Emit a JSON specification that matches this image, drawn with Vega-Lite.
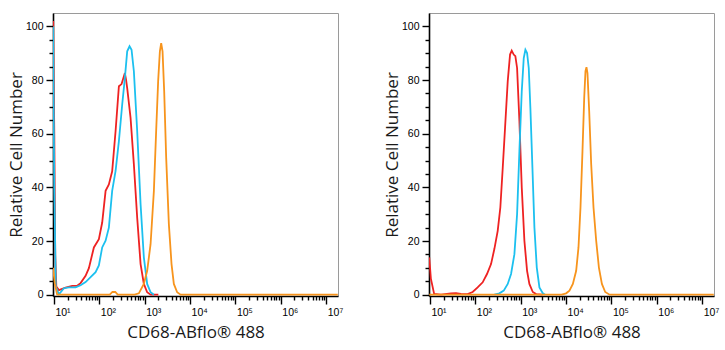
{
  "$schema": "https://vega.github.io/schema/vega-lite/v6.json",
  "padding": {"left": 6, "top": 12, "right": 0, "bottom": 8},
  "background": "white",
  "config": {
    "view": {"stroke": "#9a9a9a", "strokeWidth": 1},
    "axis": {
      "grid": false,
      "domainColor": "#000",
      "domainWidth": 1.6,
      "tickColor": "#000",
      "tickWidth": 1.4,
      "labelFont": "Liberation Sans",
      "labelFontSize": 10.5,
      "labelColor": "#000",
      "titleFont": "Open Sans",
      "titleFontSize": 17,
      "titleFontWeight": "normal",
      "titleColor": "#1a1a1a"
    }
  },
  "datasets": {
    "hist": [
      {"panel": "A", "series": "blank", "x": 9.6, "y": 102},
      {"panel": "A", "series": "blank", "x": 10.2, "y": 60},
      {"panel": "A", "series": "blank", "x": 10.7, "y": 15},
      {"panel": "A", "series": "blank", "x": 11.3, "y": 3},
      {"panel": "A", "series": "blank", "x": 12.9, "y": 1.7},
      {"panel": "A", "series": "blank", "x": 18.1, "y": 2.6},
      {"panel": "A", "series": "blank", "x": 25.3, "y": 3.3},
      {"panel": "A", "series": "blank", "x": 32.6, "y": 3.3},
      {"panel": "A", "series": "blank", "x": 38.7, "y": 4.3},
      {"panel": "A", "series": "blank", "x": 49.9, "y": 7},
      {"panel": "A", "series": "blank", "x": 59, "y": 9.9},
      {"panel": "A", "series": "blank", "x": 76, "y": 17.6},
      {"panel": "A", "series": "blank", "x": 97.9, "y": 20.7},
      {"panel": "A", "series": "blank", "x": 115.9, "y": 26.9},
      {"panel": "A", "series": "blank", "x": 137.7, "y": 38.7},
      {"panel": "A", "series": "blank", "x": 162.6, "y": 41.1},
      {"panel": "A", "series": "blank", "x": 192.3, "y": 46},
      {"panel": "A", "series": "blank", "x": 228.6, "y": 61},
      {"panel": "A", "series": "blank", "x": 270.4, "y": 77.7},
      {"panel": "A", "series": "blank", "x": 309.7, "y": 78.5},
      {"panel": "A", "series": "blank", "x": 366.4, "y": 82.6},
      {"panel": "A", "series": "blank", "x": 390, "y": 80},
      {"panel": "A", "series": "blank", "x": 412.1, "y": 77},
      {"panel": "A", "series": "blank", "x": 488.7, "y": 65.9},
      {"panel": "A", "series": "blank", "x": 578.1, "y": 48.6},
      {"panel": "A", "series": "blank", "x": 683.9, "y": 28.7},
      {"panel": "A", "series": "blank", "x": 812.8, "y": 11.4},
      {"panel": "A", "series": "blank", "x": 959.4, "y": 4},
      {"panel": "A", "series": "blank", "x": 1135, "y": 0.9},
      {"panel": "A", "series": "blank", "x": 1349, "y": 0},
      {"panel": "A", "series": "blank", "x": 2000, "y": 0},
      {"panel": "A", "series": "control", "x": 9.55, "y": 100},
      {"panel": "A", "series": "control", "x": 10.2, "y": 40},
      {"panel": "A", "series": "control", "x": 11, "y": 3},
      {"panel": "A", "series": "control", "x": 12.9, "y": 0.1},
      {"panel": "A", "series": "control", "x": 16.6, "y": 2.4},
      {"panel": "A", "series": "control", "x": 21.4, "y": 2.7},
      {"panel": "A", "series": "control", "x": 30.1, "y": 2.7},
      {"panel": "A", "series": "control", "x": 38.7, "y": 3.5},
      {"panel": "A", "series": "control", "x": 49.9, "y": 4.7},
      {"panel": "A", "series": "control", "x": 64.3, "y": 6.5},
      {"panel": "A", "series": "control", "x": 82.8, "y": 8.4},
      {"panel": "A", "series": "control", "x": 97.9, "y": 10.9},
      {"panel": "A", "series": "control", "x": 115.9, "y": 17.6},
      {"panel": "A", "series": "control", "x": 137.7, "y": 20.1},
      {"panel": "A", "series": "control", "x": 162.6, "y": 25},
      {"panel": "A", "series": "control", "x": 192.3, "y": 38.7},
      {"panel": "A", "series": "control", "x": 228.6, "y": 46.1},
      {"panel": "A", "series": "control", "x": 270.4, "y": 57.2},
      {"panel": "A", "series": "control", "x": 319.9, "y": 70.9},
      {"panel": "A", "series": "control", "x": 366.4, "y": 80.8},
      {"panel": "A", "series": "control", "x": 412.1, "y": 90.7},
      {"panel": "A", "series": "control", "x": 464.5, "y": 92.6},
      {"panel": "A", "series": "control", "x": 514, "y": 91.3},
      {"panel": "A", "series": "control", "x": 578.1, "y": 83.3},
      {"panel": "A", "series": "control", "x": 683.9, "y": 61},
      {"panel": "A", "series": "control", "x": 812.8, "y": 33.7},
      {"panel": "A", "series": "control", "x": 959.4, "y": 13.9},
      {"panel": "A", "series": "control", "x": 1135, "y": 4},
      {"panel": "A", "series": "control", "x": 1349, "y": 0.9},
      {"panel": "A", "series": "control", "x": 1596, "y": 0},
      {"panel": "A", "series": "stained", "x": 9.55, "y": 10},
      {"panel": "A", "series": "stained", "x": 10.5, "y": 4},
      {"panel": "A", "series": "stained", "x": 11.8, "y": 0},
      {"panel": "A", "series": "stained", "x": 170, "y": 0},
      {"panel": "A", "series": "stained", "x": 195, "y": 1},
      {"panel": "A", "series": "stained", "x": 225, "y": 1},
      {"panel": "A", "series": "stained", "x": 255, "y": 0},
      {"panel": "A", "series": "stained", "x": 600, "y": 0},
      {"panel": "A", "series": "stained", "x": 744.7, "y": 0.5},
      {"panel": "A", "series": "stained", "x": 959, "y": 4},
      {"panel": "A", "series": "stained", "x": 1135, "y": 8.9},
      {"panel": "A", "series": "stained", "x": 1349, "y": 18.8},
      {"panel": "A", "series": "stained", "x": 1596, "y": 38.7},
      {"panel": "A", "series": "stained", "x": 1791, "y": 61},
      {"panel": "A", "series": "stained", "x": 1982, "y": 79.6},
      {"panel": "A", "series": "stained", "x": 2163, "y": 90.7},
      {"panel": "A", "series": "stained", "x": 2312, "y": 93.8},
      {"panel": "A", "series": "stained", "x": 2477, "y": 90.7},
      {"panel": "A", "series": "stained", "x": 2692, "y": 75.8},
      {"panel": "A", "series": "stained", "x": 2979, "y": 51},
      {"panel": "A", "series": "stained", "x": 3412, "y": 26.3},
      {"panel": "A", "series": "stained", "x": 3908, "y": 11.4},
      {"panel": "A", "series": "stained", "x": 4395, "y": 4},
      {"panel": "A", "series": "stained", "x": 5200, "y": 0.9},
      {"panel": "A", "series": "stained", "x": 6180, "y": 0},
      {"panel": "A", "series": "stained", "x": 18000000, "y": 0},
      {"panel": "B", "series": "blank", "x": 9.66, "y": 13.9},
      {"panel": "B", "series": "blank", "x": 10.5, "y": 6},
      {"panel": "B", "series": "blank", "x": 12.4, "y": 0.3},
      {"panel": "B", "series": "blank", "x": 17.5, "y": 0},
      {"panel": "B", "series": "blank", "x": 29.1, "y": 0.5},
      {"panel": "B", "series": "blank", "x": 37.5, "y": 0.6},
      {"panel": "B", "series": "blank", "x": 48.3, "y": 0.3},
      {"panel": "B", "series": "blank", "x": 67.9, "y": 0.2},
      {"panel": "B", "series": "blank", "x": 87.5, "y": 1},
      {"panel": "B", "series": "blank", "x": 112.7, "y": 2.7},
      {"panel": "B", "series": "blank", "x": 145.5, "y": 4.6},
      {"panel": "B", "series": "blank", "x": 181.1, "y": 7.7},
      {"panel": "B", "series": "blank", "x": 222.3, "y": 11.4},
      {"panel": "B", "series": "blank", "x": 263, "y": 17},
      {"panel": "B", "series": "blank", "x": 311.9, "y": 23.8},
      {"panel": "B", "series": "blank", "x": 356.4, "y": 32.5},
      {"panel": "B", "series": "blank", "x": 402.7, "y": 47.3},
      {"panel": "B", "series": "blank", "x": 452.9, "y": 62.2},
      {"panel": "B", "series": "blank", "x": 518.8, "y": 79.6},
      {"panel": "B", "series": "blank", "x": 583.4, "y": 89.5},
      {"panel": "B", "series": "blank", "x": 635.3, "y": 91},
      {"panel": "B", "series": "blank", "x": 703.1, "y": 89.5},
      {"panel": "B", "series": "blank", "x": 763.8, "y": 88.9},
      {"panel": "B", "series": "blank", "x": 833.7, "y": 84.5},
      {"panel": "B", "series": "blank", "x": 937.6, "y": 64.7},
      {"panel": "B", "series": "blank", "x": 1057, "y": 39.9},
      {"panel": "B", "series": "blank", "x": 1208, "y": 20.1},
      {"panel": "B", "series": "blank", "x": 1384, "y": 8.9},
      {"panel": "B", "series": "blank", "x": 1556, "y": 4},
      {"panel": "B", "series": "blank", "x": 1849, "y": 1},
      {"panel": "B", "series": "blank", "x": 2188, "y": 0.2},
      {"panel": "B", "series": "blank", "x": 3000, "y": 0},
      {"panel": "B", "series": "control", "x": 263, "y": 0},
      {"panel": "B", "series": "control", "x": 339.6, "y": 0.5},
      {"panel": "B", "series": "control", "x": 423.6, "y": 1.5},
      {"panel": "B", "series": "control", "x": 518.8, "y": 4},
      {"panel": "B", "series": "control", "x": 613.8, "y": 7.7},
      {"panel": "B", "series": "control", "x": 727.8, "y": 15.1},
      {"panel": "B", "series": "control", "x": 833.7, "y": 30},
      {"panel": "B", "series": "control", "x": 937.6, "y": 53.5},
      {"panel": "B", "series": "control", "x": 1057, "y": 75.8},
      {"panel": "B", "series": "control", "x": 1169, "y": 88.2},
      {"panel": "B", "series": "control", "x": 1271, "y": 91.3},
      {"panel": "B", "series": "control", "x": 1384, "y": 90.1},
      {"panel": "B", "series": "control", "x": 1507, "y": 84.5},
      {"panel": "B", "series": "control", "x": 1637, "y": 69.6},
      {"panel": "B", "series": "control", "x": 1816, "y": 47.3},
      {"panel": "B", "series": "control", "x": 2009, "y": 25},
      {"panel": "B", "series": "control", "x": 2265, "y": 10.1},
      {"panel": "B", "series": "control", "x": 2588, "y": 2.7},
      {"panel": "B", "series": "control", "x": 3076, "y": 0.5},
      {"panel": "B", "series": "control", "x": 3459, "y": 0},
      {"panel": "B", "series": "stained", "x": 9.66, "y": 0},
      {"panel": "B", "series": "stained", "x": 8000, "y": 0},
      {"panel": "B", "series": "stained", "x": 10046, "y": 0.5},
      {"panel": "B", "series": "stained", "x": 11885, "y": 1.5},
      {"panel": "B", "series": "stained", "x": 14125, "y": 4},
      {"panel": "B", "series": "stained", "x": 16711, "y": 8.9},
      {"panel": "B", "series": "stained", "x": 18793, "y": 17.6},
      {"panel": "B", "series": "stained", "x": 20797, "y": 32.5},
      {"panel": "B", "series": "stained", "x": 23014, "y": 53.5},
      {"panel": "B", "series": "stained", "x": 25119, "y": 73.3},
      {"panel": "B", "series": "stained", "x": 26792, "y": 83.3},
      {"panel": "B", "series": "stained", "x": 28184, "y": 84.8},
      {"panel": "B", "series": "stained", "x": 29648, "y": 82.6},
      {"panel": "B", "series": "stained", "x": 32359, "y": 68.4},
      {"panel": "B", "series": "stained", "x": 35810, "y": 48.6},
      {"panel": "B", "series": "stained", "x": 40272, "y": 32.5},
      {"panel": "B", "series": "stained", "x": 46132, "y": 20.1},
      {"panel": "B", "series": "stained", "x": 52966, "y": 10.1},
      {"panel": "B", "series": "stained", "x": 61660, "y": 4},
      {"panel": "B", "series": "stained", "x": 72946, "y": 1},
      {"panel": "B", "series": "stained", "x": 90782, "y": 0},
      {"panel": "B", "series": "stained", "x": 18000000, "y": 0}
    ]
  },
  "spacing": 38,
  "hconcat": [
    {
      "width": 285,
      "height": 283,
      "data": {"name": "hist"},
      "transform": [{"filter": "datum.panel === 'A'"}],
      "layer": [
        {
          "mark": {"type": "line", "strokeWidth": 1.8, "clip": true},
          "encoding": {
            "x": {"field": "x", "type": "quantitative", "scale": {"type": "log", "domain": [9.55, 18200000], "nice": false},
              "axis": {"orient": "bottom", "values": [10, 100, 1000, 10000, 100000, 1000000, 10000000], "tickSize": 8, "labelAlign": "left", "labelOffset": 1, "labelPadding": 3,
                "labelExpr": "'10' + ['⁰','¹','²','³','⁴','⁵','⁶','⁷'][round(log(datum.value)/LN10)]", "title": "CD68-ABflo® 488", "titlePadding": 7}},
            "y": {"field": "y", "type": "quantitative", "scale": {"domain": [-0.5, 105], "nice": false, "zero": false},
              "axis": {"orient": "left", "values": [0, 20, 40, 60, 80, 100], "tickSize": 7, "labelPadding": 3, "title": "Relative Cell Number", "titlePadding": 0}},
            "color": {"field": "series", "type": "nominal", "scale": {"domain": ["blank", "control", "stained"], "range": ["#ee2222", "#1cc0ef", "#f7941d"]}, "legend": null}
          }
        },
        {
          "mark": {"type": "line", "opacity": 0},
          "encoding": {
            "x": {"field": "x", "type": "quantitative", "scale": {"type": "log", "domain": [9.55, 18200000], "nice": false},
              "axis": {"orient": "bottom", "values": [20,30,40,50,60,70,80,90,200,300,400,500,600,700,800,900,2000,3000,4000,5000,6000,7000,8000,9000,20000,30000,40000,50000,60000,70000,80000,90000,200000,300000,400000,500000,600000,700000,800000,900000,2000000,3000000,4000000,5000000,6000000,7000000,8000000,9000000], "tickSize": 4, "labels": false, "domain": false, "title": null}},
            "y": {"field": "y", "type": "quantitative", "scale": {"domain": [-0.5, 105], "nice": false, "zero": false},
              "axis": {"orient": "left", "values": [5,10,15,25,30,35,45,50,55,65,70,75,85,90,95], "tickSize": 4, "labels": false, "domain": false, "title": null}},
            "detail": {"field": "series"}
          }
        }
      ],
      "resolve": {"axis": {"x": "independent", "y": "independent"}}
    },
    {
      "width": 285,
      "height": 283,
      "data": {"name": "hist"},
      "transform": [{"filter": "datum.panel === 'B'"}],
      "layer": [
        {
          "mark": {"type": "line", "strokeWidth": 1.8, "clip": true},
          "encoding": {
            "x": {"field": "x", "type": "quantitative", "scale": {"type": "log", "domain": [9.55, 18200000], "nice": false},
              "axis": {"orient": "bottom", "values": [10, 100, 1000, 10000, 100000, 1000000, 10000000], "tickSize": 8, "labelAlign": "left", "labelOffset": 1, "labelPadding": 3,
                "labelExpr": "'10' + ['⁰','¹','²','³','⁴','⁵','⁶','⁷'][round(log(datum.value)/LN10)]", "title": "CD68-ABflo® 488", "titlePadding": 7}},
            "y": {"field": "y", "type": "quantitative", "scale": {"domain": [-0.5, 105], "nice": false, "zero": false},
              "axis": {"orient": "left", "values": [0, 20, 40, 60, 80, 100], "tickSize": 7, "labelPadding": 3, "title": "Relative Cell Number", "titlePadding": 0}},
            "color": {"field": "series", "type": "nominal", "scale": {"domain": ["blank", "control", "stained"], "range": ["#ee2222", "#1cc0ef", "#f7941d"]}, "legend": null}
          }
        },
        {
          "mark": {"type": "line", "opacity": 0},
          "encoding": {
            "x": {"field": "x", "type": "quantitative", "scale": {"type": "log", "domain": [9.55, 18200000], "nice": false},
              "axis": {"orient": "bottom", "values": [20,30,40,50,60,70,80,90,200,300,400,500,600,700,800,900,2000,3000,4000,5000,6000,7000,8000,9000,20000,30000,40000,50000,60000,70000,80000,90000,200000,300000,400000,500000,600000,700000,800000,900000,2000000,3000000,4000000,5000000,6000000,7000000,8000000,9000000], "tickSize": 4, "labels": false, "domain": false, "title": null}},
            "y": {"field": "y", "type": "quantitative", "scale": {"domain": [-0.5, 105], "nice": false, "zero": false},
              "axis": {"orient": "left", "values": [5,10,15,25,30,35,45,50,55,65,70,75,85,90,95], "tickSize": 4, "labels": false, "domain": false, "title": null}},
            "detail": {"field": "series"}
          }
        }
      ],
      "resolve": {"axis": {"x": "independent", "y": "independent"}}
    }
  ]
}
